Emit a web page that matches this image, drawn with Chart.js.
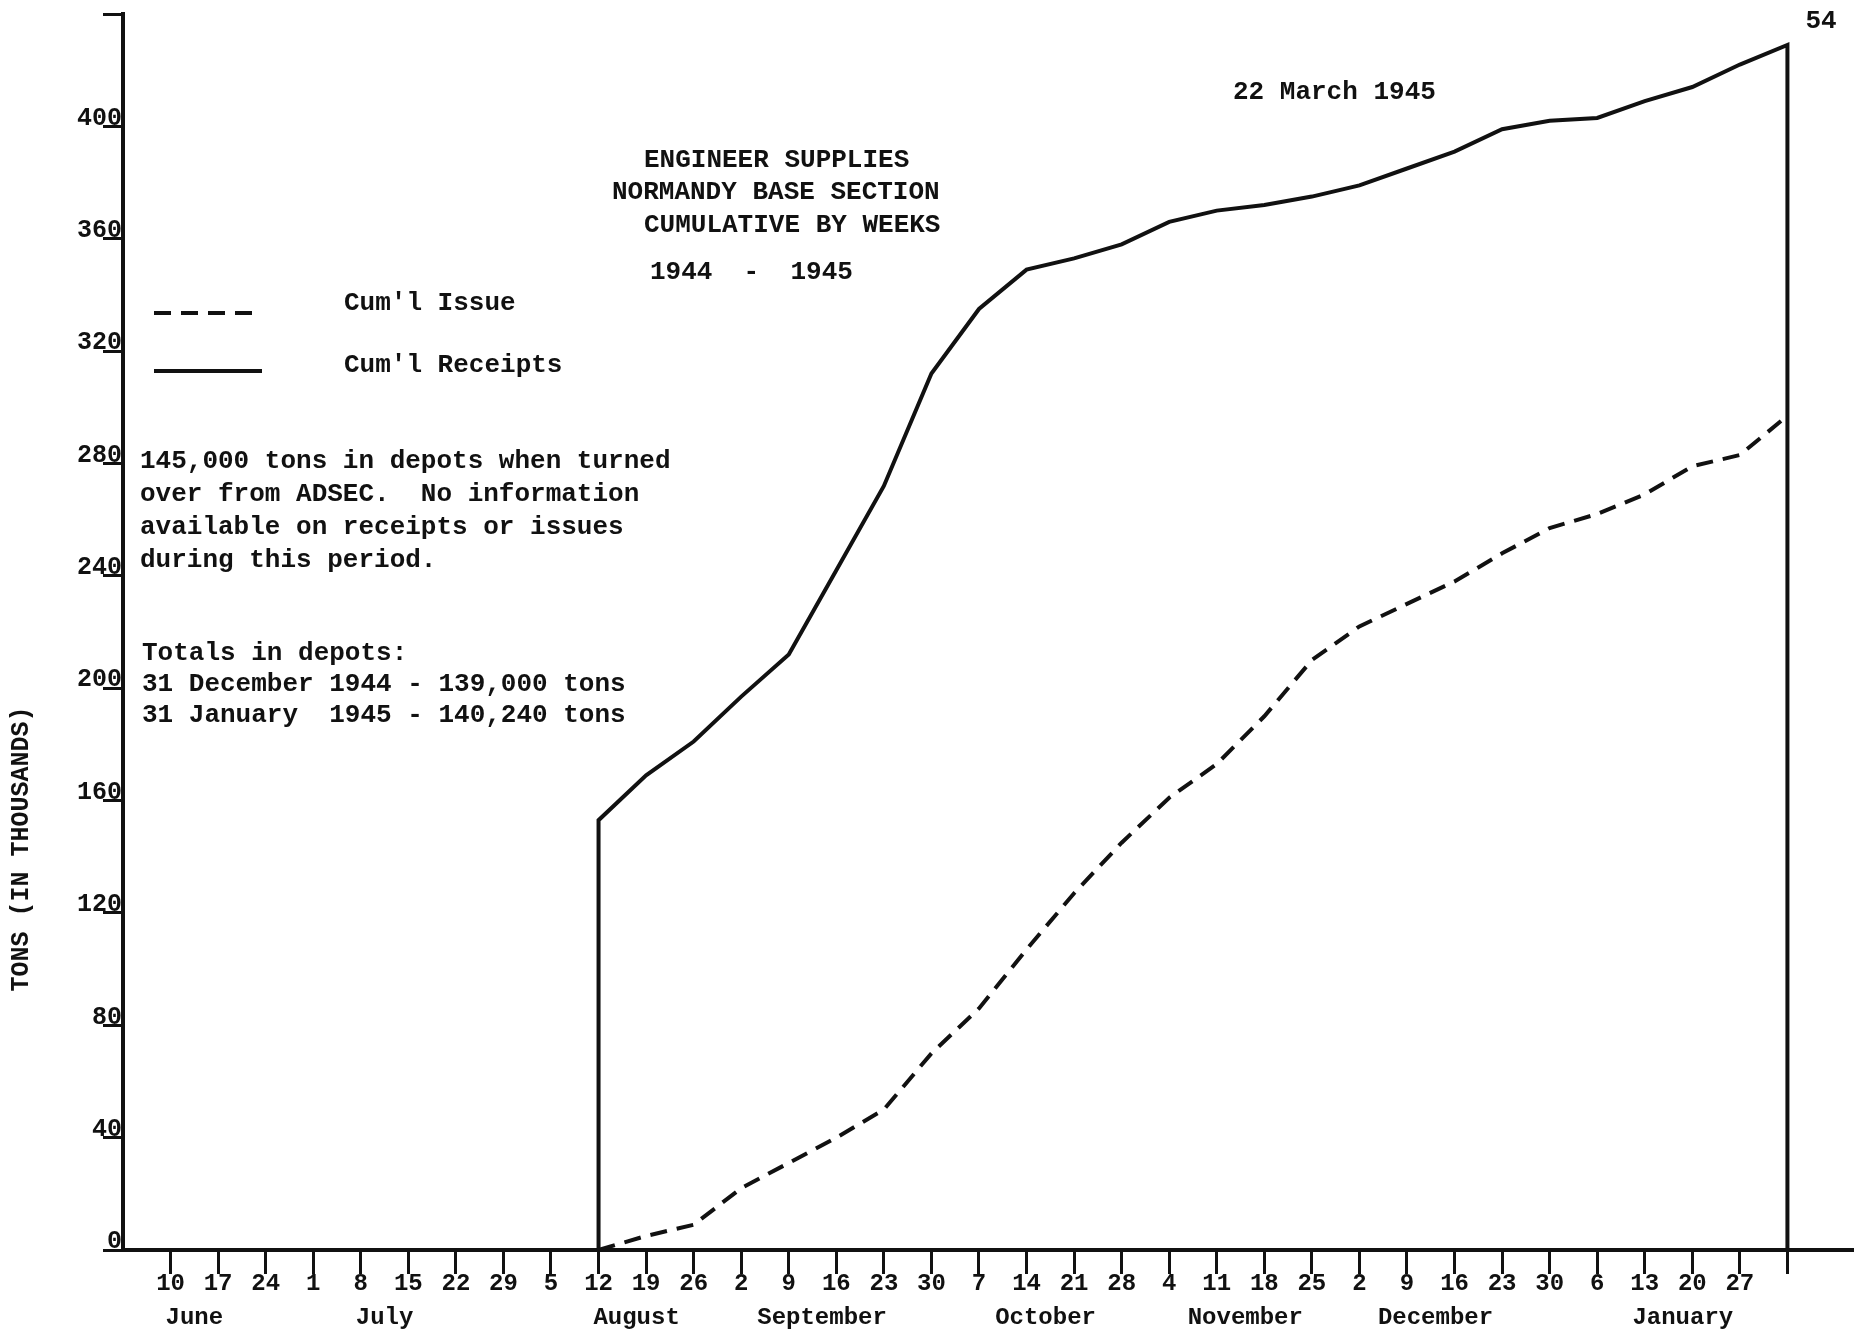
<!DOCTYPE html>
<html>
<head>
<meta charset="utf-8">
<title>Engineer Supplies - Normandy Base Section</title>
<script src="https://cdn.jsdelivr.net/npm/chart.js@4.4.1/dist/chart.umd.min.js"></script>
<style>
  html, body { margin: 0; padding: 0; background: #fff; }
  canvas { display: block; }
</style>
</head>
<body>
<canvas id="supplyChart" width="1854" height="1334"></canvas>
<script>
// Week-ending days, 10 June 1944 .. 27 January 1945 (week 1..34); week 35 is 3 February
const weekLabels = ['10','17','24','1','8','15','22','29','5','12','19','26','2','9','16','23','30',
                    '7','14','21','28','4','11','18','25','2','9','16','23','30','6','13','20','27'];
const tickWeeks = [1,2,3,4,5,6,7,8,9,10,11,12,13,14,15,16,17,18,19,20,21,22,23,24,25,26,27,28,29,30,31,32,33,34,35];
const months = ['June','July','August','September','October','November','December','January'];
const monthWeeks = [1.5, 5.5, 10.8, 14.7, 19.4, 23.6, 27.6, 32.8];

// Cumulative tons (thousands), weekly from 12 August 1944 to 3 February 1945
const firstWeek = 10;
const receipts = [153, 169, 181, 197, 212, 242, 272, 312, 335, 349, 353, 358, 366,
                  370, 372, 375, 379, 385, 391, 399, 402, 403, 409, 414, 422, 429];
const issues = [0, 5, 9, 22, 31, 40, 50, 70, 86, 107, 127, 145, 161,
                173, 190, 210, 222, 230, 238, 248, 257, 262, 269, 279, 283, 297];
const yMax = 440;

const ink = '#111';
const typeFace = '"Liberation Mono", "Courier New", monospace';

const lastWeek = firstWeek + receipts.length - 1;
// receipts drop to the axis at both ends of the recorded period
const receiptPoints = [{ x: firstWeek, y: 0 }]
  .concat(receipts.map((v, i) => ({ x: firstWeek + i, y: v })))
  .concat([{ x: lastWeek, y: 0 }]);
const issuePoints = issues.map((v, i) => ({ x: firstWeek + i, y: v }));

const notes = {
  id: 'notes',
  afterDraw(chart) {
    const { ctx } = chart;
    const xs = chart.scales.x;
    ctx.save();
    ctx.fillStyle = ink;
    ctx.textBaseline = 'middle';
    const put = (t, x, y, align) => { ctx.textAlign = align || 'left'; ctx.fillText(t, x, y); };

    ctx.font = `bold 26px ${typeFace}`;
    put('22 March 1945', 1233, 92);
    put('ENGINEER SUPPLIES', 644, 160);
    put('NORMANDY BASE SECTION', 612, 192);
    put('CUMULATIVE BY WEEKS', 644, 225);
    put('1944  -  1945', 650, 272);

    put("Cum'l Issue", 344, 303);
    put("Cum'l Receipts", 344, 365);

    const para = ['145,000 tons in depots when turned',
                  'over from ADSEC.  No information',
                  'available on receipts or issues',
                  'during this period.'];
    para.forEach((t, i) => put(t, 140, 461 + i * 33));
    const totals = ['Totals in depots:',
                    '31 December 1944 - 139,000 tons',
                    '31 January  1945 - 140,240 tons'];
    totals.forEach((t, i) => put(t, 142, 653 + i * 31));

    put('54', 1821, 21, 'center');

    // legend samples use the datasets' own strokes
    const samples = [chart.data.datasets[1], chart.data.datasets[0]];
    samples.forEach((ds, i) => {
      ctx.beginPath();
      ctx.strokeStyle = ds.borderColor;
      ctx.lineWidth = ds.borderWidth;
      ctx.setLineDash(ds.borderDash || []);
      const y = 313 + i * 58;
      ctx.moveTo(154, y);
      ctx.lineTo(262, y);
      ctx.stroke();
    });
    ctx.setLineDash([]);

    // month names under the weekly ticks
    ctx.font = `bold 24px ${typeFace}`;
    months.forEach((m, i) => put(m, xs.getPixelForValue(monthWeeks[i]), 1318, 'center'));

    // axis title
    ctx.font = `bold 25px ${typeFace}`;
    ctx.translate(22, 849);
    ctx.rotate(-Math.PI / 2);
    put('TONS (IN THOUSANDS)', 0, 0, 'center');
    ctx.restore();
  }
};

new Chart(document.getElementById('supplyChart'), {
  type: 'line',
  data: {
    datasets: [
      {
        label: "Cum'l Receipts",
        data: receiptPoints,
        borderColor: ink,
        borderWidth: 4,
        pointRadius: 0,
        tension: 0,
        fill: false
      },
      {
        label: "Cum'l Issue",
        data: issuePoints,
        borderColor: ink,
        borderWidth: 4,
        borderDash: [17, 10],
        pointRadius: 0,
        tension: 0,
        fill: false
      }
    ]
  },
  options: {
    responsive: false,
    devicePixelRatio: 1,
    animation: false,
    clip: false,
    layout: { padding: { top: 14, right: 0, left: 0, bottom: 0 } },
    plugins: {
      legend: { display: false },
      tooltip: { enabled: false }
    },
    scales: {
      x: {
        type: 'linear',
        min: 0,
        max: 36.4,
        afterBuildTicks: s => { s.ticks = tickWeeks.map(v => ({ value: v })); },
        afterFit: s => { s.height = 84; },
        border: { color: ink, width: 4 },
        grid: { drawOnChartArea: false, color: ink, lineWidth: 3, tickLength: 24 },
        ticks: {
          color: ink,
          padding: -4,
          maxRotation: 0,
          autoSkip: false,
          font: { family: typeFace, size: 24, weight: 'bold' },
          callback: (v, i) => weekLabels[i] || ''
        }
      },
      y: {
        min: 0,
        max: yMax,
        afterFit: s => { s.width = 123; },
        border: { color: ink, width: 4 },
        grid: { drawOnChartArea: false, color: ink, lineWidth: 3, tickLength: 20 },
        ticks: {
          stepSize: 40,
          color: ink,
          padding: -19,
          labelOffset: -8,
          font: { family: typeFace, size: 25, weight: 'bold' },
          callback: v => (v < yMax ? v : '')
        }
      }
    }
  },
  plugins: [notes]
});
</script>
</body>
</html>
